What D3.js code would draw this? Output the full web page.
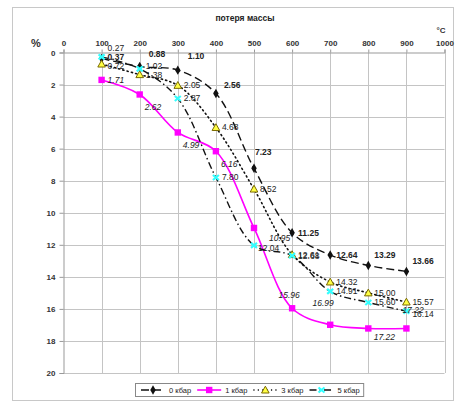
<!DOCTYPE html>
<html><head><meta charset="utf-8">
<script src="https://cdn.jsdelivr.net/npm/d3@7/dist/d3.min.js"></script>
<style>body{margin:0;background:#fff}svg{display:block;font-family:"Liberation Sans",Arial,sans-serif}</style>
</head><body><svg id="c" width="456" height="404"></svg>
<script>
// ---- data ----
const temps = [100, 200, 300, 400, 500, 600, 700, 800, 900];
const s0kbar = [0.37, 0.88, 1.10, 2.56, 7.23, 11.25, 12.64, 13.29, 13.66];
const s1kbar = [1.71, 2.62, 4.99, 6.16, 10.95, 15.96, 16.99, 17.22, 17.22];
const s3kbar = [0.72, 1.38, 2.05, 4.68, 8.52, 12.61, 14.32, 15.00, 15.57];
const s5kbar = [0.27, 1.02, 2.87, 7.80, 12.04, 12.68, 14.91, 15.60, 16.14];
const seriesNames = ["0 кбар", "1 кбар", "3 кбар", "5 кбар"];
const xTicks = [0, 100, 200, 300, 400, 500, 600, 700, 800, 900, 1000];
const yTicks = [0, 2, 4, 6, 8, 10, 12, 14, 16, 18, 20];
const title = "потеря массы";

const svg = d3.select("#c");
const x = d3.scaleLinear().domain([0, 1000]).range([63.5, 444.5]);
const y = d3.scaleLinear().domain([0, 20]).range([52.5, 373]);

// outer frame
svg.append("rect").attr("x", 12.5).attr("y", 7.5).attr("width", 441).attr("height", 393)
  .attr("fill", "none").attr("stroke", "#c8c8c8");

// gridlines
const g = svg.append("g");
g.selectAll(".vg").data(xTicks.slice(1)).join("line")
  .attr("x1", d => Math.round(x(d)) + 0.5).attr("x2", d => Math.round(x(d)) + 0.5)
  .attr("y1", y(0)).attr("y2", y(20)).attr("stroke", "#c4c4c4");
g.selectAll(".hg").data(yTicks.slice(1)).join("line")
  .attr("y1", d => Math.round(y(d)) + 0.5).attr("y2", d => Math.round(y(d)) + 0.5)
  .attr("x1", x(0)).attr("x2", x(1000)).attr("stroke", "#c4c4c4");

// axes
const ax = svg.append("g").attr("transform", `translate(0,${y(0)})`)
  .call(d3.axisTop(x).tickValues(xTicks).tickFormat(d3.format("d")).tickSize(3).tickPadding(4));
const ay = svg.append("g").attr("transform", `translate(${x(0)},0)`)
  .call(d3.axisLeft(y).tickValues(yTicks).tickFormat(d3.format("d")).tickSize(4).tickPadding(4));
[ax, ay].forEach(a => {
  a.select(".domain").attr("stroke", "#999");
  a.selectAll(".tick line").attr("stroke", "#999");
  a.selectAll(".tick text").attr("font-size", 8).attr("font-weight", "bold").attr("fill", "#333")
    .attr("font-family", "Liberation Sans, Arial, sans-serif");
});

svg.append("text").attr("x", 245).attr("y", 21).attr("text-anchor", "middle")
  .attr("font-size", 8.5).attr("font-weight", "bold").attr("fill", "#222").text(title);
svg.append("text").attr("x", 36).attr("y", 47).attr("text-anchor", "middle")
  .attr("font-size", 11).attr("font-weight", "bold").attr("fill", "#333").text("%");
svg.append("text").attr("x", 441).attr("y", 33).attr("text-anchor", "middle")
  .attr("font-size", 8).attr("font-weight", "bold").attr("fill", "#333").text("°C");

// series
const series = [
  {name: seriesNames[0], vals: s0kbar, color: "#111", dash: "8,4", width: 1.4, marker: "diamond", lab: {w: "bold", i: "normal"}},
  {name: seriesNames[1], vals: s1kbar, color: "#ff00ff", dash: null, width: 1.6, marker: "square", lab: {w: "normal", i: "italic"}},
  {name: seriesNames[2], vals: s3kbar, color: "#111", dash: "1.2,3.2", width: 1.6, marker: "triangle", lab: {w: "normal", i: "normal"}},
  {name: seriesNames[3], vals: s5kbar, color: "#111", dash: "7,3,1.5,3", width: 1.4, marker: "cyan", lab: {w: "normal", i: "normal"}}
];

const line = d3.line().x(d => x(d[0])).y(d => y(d[1])).curve(d3.curveCatmullRom.alpha(0.5));

function drawMarker(sel, type) {
  if (type === "diamond") {
    sel.append("path").attr("d", d3.symbol().type(d3.symbolDiamond).size(26)).attr("fill", "#111");
  } else if (type === "square") {
    sel.append("rect").attr("x", -3.2).attr("y", -3.2).attr("width", 6.4).attr("height", 6.4).attr("fill", "#ff00ff");
  } else if (type === "triangle") {
    sel.append("path").attr("d", "M0,-3.8L3.8,3L-3.8,3Z").attr("fill", "#ffff44").attr("stroke", "#7a6a00").attr("stroke-width", 1);
  } else {
    sel.append("path").attr("d", "M-3,-2.5L3,2.5M-3,2.5L3,-2.5").attr("stroke", "#33ffff").attr("stroke-width", 2.2);
  }
}

series.forEach(s => {
  const pts = temps.map((t, i) => [t, s.vals[i]]);
  svg.append("path").attr("d", line(pts)).attr("fill", "none").attr("stroke", s.color)
    .attr("stroke-width", s.width).attr("stroke-dasharray", s.dash)
    .attr("stroke-linecap", s.marker === "triangle" ? "round" : "butt");
});

// label placement rules (style only)
function labelPos(si, i) {
  if (si === 0) {
    if (i === 0) return {dx: 6, dy: 2, a: "start"};
    if (i === 1) return {dx: 9, dy: -10, a: "start"};
    if (i === 2) return {dx: 10, dy: -11, a: "start"};
    if (i === 3) return {dx: 8, dy: -6, a: "start"};
    if (i === 4) return {dx: 1, dy: -13, a: "start"};
    return {dx: 6, dy: i >= 7 ? -7 : 3, a: "start"};
  }
  if (si === 1) {
    if (i === 0) return {dx: 6, dy: 3, a: "start"};
    if (i === 4) return {dx: 15, dy: 13, a: "start"};
    if (i <= 3) return {dx: 5, dy: 16, a: "start"};
    if (i === 5) return {dx: -3, dy: -10, a: "middle"};
    if (i === 6) return {dx: -7, dy: -19, a: "middle"};
    if (i === 7) return {dx: 16, dy: 12, a: "middle"};
    return {dx: -4, dy: -15, a: "start"};
  }
  if (si === 2 && i === 0) return {dx: 6, dy: 5, a: "start"};
  if (si === 3) {
    if (i === 0) return {dx: 6, dy: -6, a: "start"};
    if (i === 1) return {dx: 6, dy: 0, a: "start"};
    if (i === 4) return {dx: 4, dy: 6, a: "start"};
    if (i === 8) return {dx: 6, dy: 6, a: "start"};
  }
  return {dx: 6, dy: 3, a: "start"};
}

series.forEach((s, si) => {
  const gg = svg.append("g");
  temps.forEach((t, i) => {
    const m = gg.append("g").attr("transform", `translate(${x(t)},${y(s.vals[i])})`);
    drawMarker(m, s.marker);
  });
});
series.forEach((s, si) => {
  temps.forEach((t, i) => {
    const p = labelPos(si, i);
    svg.append("text").attr("x", x(t) + p.dx).attr("y", y(s.vals[i]) + p.dy)
      .attr("text-anchor", p.a).attr("font-size", 8.5).attr("font-weight", s.lab.w)
      .attr("font-style", s.lab.i).attr("fill", "#222").text(s.vals[i].toFixed(2));
  });
});

// legend
const lg = svg.append("g");
const lgBox = lg.append("rect").attr("y", 383.5).attr("height", 13).attr("fill", "#fff").attr("stroke", "#888");
let cx = 141;
series.forEach((s, si) => {
  const sample = lg.append("g");
  sample.append("line").attr("x1", cx).attr("x2", cx + 24).attr("y1", 390).attr("y2", 390)
    .attr("stroke", s.color).attr("stroke-width", s.width).attr("stroke-dasharray", s.dash);
  const m = sample.append("g").attr("transform", `translate(${cx + 12},390)`);
  drawMarker(m, s.marker);
  const t = lg.append("text").attr("x", cx + 28).attr("y", 393).attr("font-size", 7.5).attr("fill", "#222").text(s.name);
  cx += 28 + t.node().getComputedTextLength() + 6;
});
lgBox.attr("x", 135.5).attr("width", cx - 135.5 - 2);
</script></body></html>
